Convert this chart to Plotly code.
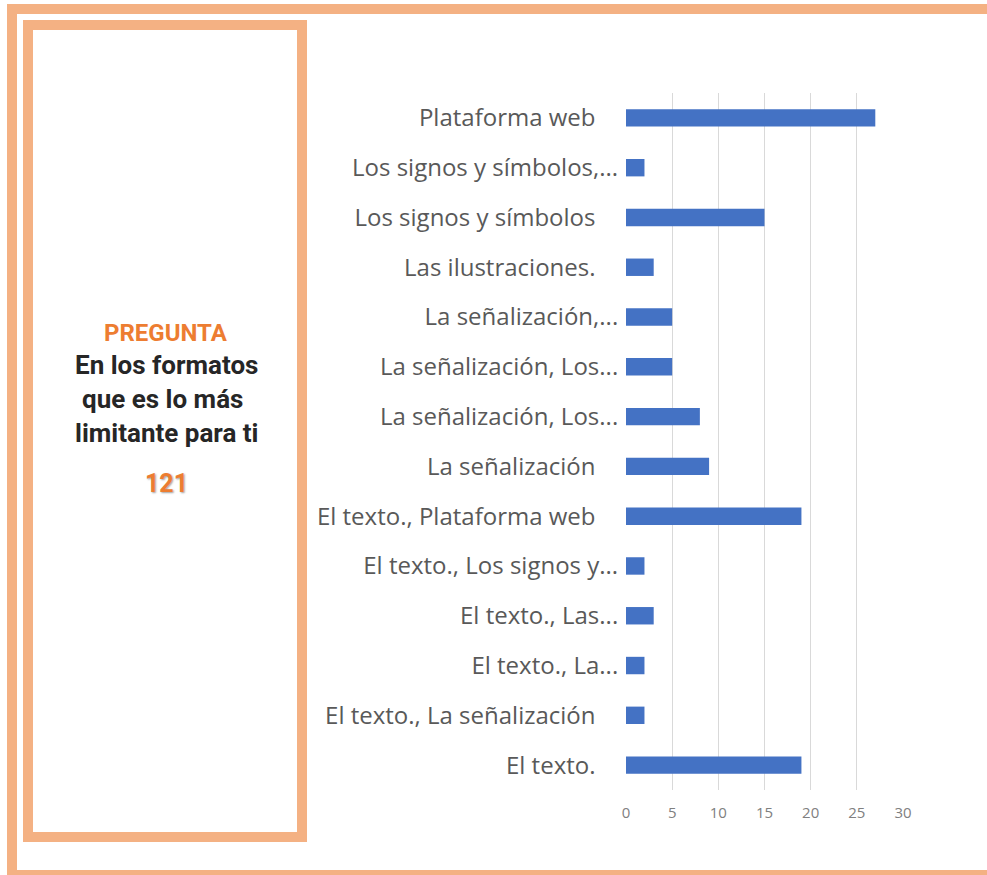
import plotly.graph_objects as go

# categories bottom -> top
categorias = [
    "El texto.",
    "El texto., La señalización",
    "El texto., La...",
    "El texto., Las...",
    "El texto., Los signos y...",
    "El texto., Plataforma web",
    "La señalización",
    "La señalización, Los...",
    "La señalización, Los...",
    "La señalización,...",
    "Las ilustraciones.",
    "Los signos y símbolos",
    "Los signos y símbolos,...",
    "Plataforma web",
]
respuestas = [19, 2, 2, 3, 2, 19, 9, 8, 5, 5, 3, 15, 2, 27]
ticks_x = [0, 5, 10, 15, 20, 25, 30]

W, H = 987, 875
NBSP = "\u00a0"
# labels that are not truncated keep some extra space on the right
etiquetas = [c if c.endswith("...") else c + NBSP * 3 + "\u2009" for c in categorias]
posiciones = list(range(len(categorias)))

fig = go.Figure()
fig.add_trace(go.Bar(
    x=respuestas, y=posiciones, orientation="h",
    marker=dict(color="#4472C4", line=dict(width=0)),
    width=0.35,
))

def px_x(v):
    return v / W

def px_y(v):
    return 1 - v / H

fig.update_layout(
    width=W, height=H,
    margin=dict(l=0, r=0, t=0, b=0, autoexpand=False),
    paper_bgcolor="white", plot_bgcolor="white",
    showlegend=False,
    xaxis=dict(
        domain=[px_x(626), px_x(903)],
        range=[0, 30], tickvals=ticks_x,
        showgrid=True, gridcolor="#D9D9D9", gridwidth=1,
        zeroline=False, showline=False, automargin=False,
        ticks="", ticklabelstandoff=12,
        tickfont=dict(family="Open Sans", size=15, color="#808080"),
    ),
    yaxis=dict(
        domain=[px_y(790), px_y(93)],
        range=[-0.5, len(categorias) - 0.5],
        tickvals=posiciones, ticktext=etiquetas,
        showgrid=False, zeroline=False, showline=False, automargin=False,
        ticks="outside", ticklen=2, tickcolor="white",
        tickfont=dict(family="Open Sans", size=24, color="#595959"),
    ),
)

# outer frame and question box
naranja = "#F4B183"
fig.add_shape(type="rect", xref="paper", yref="paper",
              x0=px_x(12), x1=px_x(1010), y0=px_y(875), y1=px_y(9),
              line=dict(color=naranja, width=10))
fig.add_shape(type="rect", xref="paper", yref="paper",
              x0=px_x(28), x1=px_x(302), y0=px_y(837), y1=px_y(25),
              line=dict(color=naranja, width=10))

cx = px_x(166)
fig.add_annotation(x=cx, y=px_y(333), xref="paper", yref="paper", showarrow=False,
                   xanchor="center", yanchor="middle",
                   text="<b>PREGUNTA</b>",
                   font=dict(family="Roboto", size=24, color="#ED7D31"))
for texto, yy in [("En los formatos", 365), ("que es lo más" + NBSP, 399), ("limitante para ti", 433)]:
    fig.add_annotation(x=cx, y=px_y(yy), xref="paper", yref="paper", showarrow=False,
                       xanchor="center", yanchor="middle",
                       text="<b>" + texto + "</b>",
                       font=dict(family="Roboto", size=26, color="#262626"))
fig.add_annotation(x=cx, y=px_y(483), xref="paper", yref="paper", showarrow=False,
                   xanchor="center", yanchor="middle",
                   text="<b>121</b>",
                   font=dict(family="Roboto", size=25, color="#ED7D31",
                             shadow="1px 1px 2px #a0a0a0"))

# drop the default page margin so the figure fills the window exactly
fig.write_html("out.html", post_script="document.body.style.margin='0';",
               config={"displayModeBar": False})
